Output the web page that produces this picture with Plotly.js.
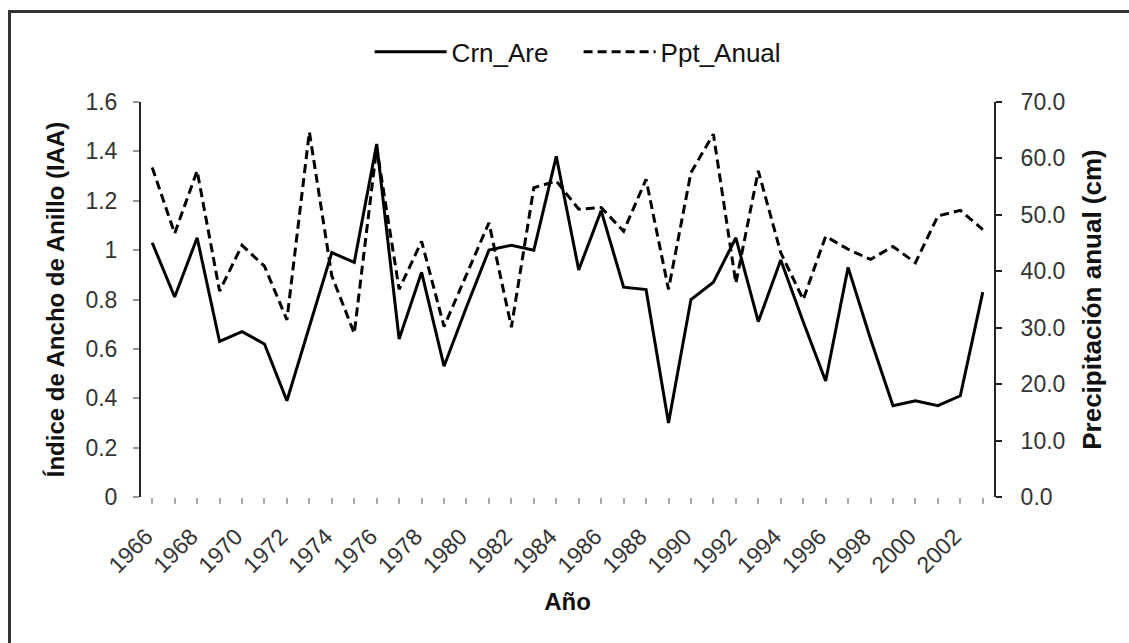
<!DOCTYPE html>
<html>
<head>
<meta charset="utf-8">
<script src="https://cdn.plot.ly/plotly-3.0.1.min.js"></script>
<style>
html,body{margin:0;padding:0;background:#fff;overflow:hidden;}
#frame{position:absolute;left:8px;top:10px;width:1140px;height:660px;border:3px solid #333;box-sizing:border-box;}
#chart{position:absolute;left:0;top:0;width:1129px;height:643px;}
</style>
</head>
<body>
<div id="frame"></div>
<div id="chart"></div>
<script>
const years = [1966,1967,1968,1969,1970,1971,1972,1973,1974,1975,1976,1977,1978,1979,1980,1981,1982,1983,1984,
  1985,1986,1987,1988,1989,1990,1991,1992,1993,1994,1995,1996,1997,1998,1999,2000,2001,2002,2003];
const crnAre = [1.03,0.81,1.05,0.63,0.67,0.62,0.39,0.69,0.99,0.95,1.43,0.64,0.91,0.53,0.77,1.00,1.02,1.00,1.38,
  0.92,1.16,0.85,0.84,0.30,0.80,0.87,1.05,0.71,0.96,0.71,0.47,0.93,0.64,0.37,0.39,0.37,0.41,0.83];
const pptAnual = [58.4,46.7,57.8,36.5,44.6,40.9,31.4,64.7,39.2,29.0,61.9,36.8,45.3,30.2,39.4,48.6,30.1,54.8,56.0,
  51.0,51.3,47.1,56.3,36.8,57.5,64.3,37.9,57.8,43.3,35.0,46.2,43.9,42.1,44.4,41.5,49.8,50.8,47.4];
const tickYears = years;
const tickLabels = years.map(y => (y % 2 === 0 ? String(y) : ''));

const FONT = 'Arial, "Liberation Sans", sans-serif';
const tickFont = {family: FONT, size: 23, color: '#333'};

const data = [
  {x: years, y: crnAre, name: 'Crn_Are', type: 'scatter', mode: 'lines',
   line: {color: '#000', width: 3}, yaxis: 'y'},
  {x: years, y: pptAnual, name: 'Ppt_Anual', type: 'scatter', mode: 'lines',
   line: {color: '#000', width: 3, dash: '9px,5px'}, yaxis: 'y2'}
];

const layout = {
  width: 1129, height: 643,
  paper_bgcolor: 'rgba(0,0,0,0)', plot_bgcolor: 'rgba(0,0,0,0)',
  margin: {l: 141, r: 135, t: 102, b: 146},
  showlegend: true,
  legend: {orientation: 'h', x: 0.268, xanchor: 'left', y: 1.127, yanchor: 'middle',
    font: {family: FONT, size: 26, color: '#111'},
    itemwidth: 72, entrywidth: 122, bgcolor: 'rgba(0,0,0,0)'},
  xaxis: {
    range: [1965.5, 2003.5], tickmode: 'array', tickvals: tickYears, ticktext: tickLabels,
    tickangle: -45, tickfont: tickFont, ticks: 'outside', ticklen: 6, tickcolor: '#aaa', tickwidth: 2,
    ticklabelstandoff: 10, ticklabelshift: -6,
    showline: false, showgrid: false, zeroline: false,
    title: {text: 'Año', font: {family: FONT, size: 24, color: '#111', weight: 'bold'}, standoff: 16}
  },
  yaxis: {
    range: [0, 1.6], dtick: 0.2, tick0: 0, tickfont: tickFont,
    ticks: 'outside', ticklen: 6, tickcolor: '#999', tickwidth: 2, ticklabelstandoff: 11,
    showline: true, linecolor: '#222', linewidth: 2, showgrid: false, zeroline: false,
    title: {text: 'Índice de Ancho de Anillo (IAA)', font: {family: FONT, size: 24, color: '#111', weight: 'bold'}, standoff: 14}
  },
  yaxis2: {
    range: [0, 70], dtick: 10, tick0: 0, tickformat: '.1f', overlaying: 'y', side: 'right',
    tickfont: tickFont, ticks: 'outside', ticklen: 6, tickcolor: '#222', tickwidth: 2, ticklabelstandoff: 14,
    showline: true, linecolor: '#222', linewidth: 2, showgrid: false, zeroline: false,
    title: {text: 'Precipitación anual (cm)', font: {family: FONT, size: 26, color: '#111', weight: 'bold'}, standoff: 18}
  }
};

Plotly.newPlot('chart', data, layout, {displayModeBar: false, staticPlot: true});
</script>
</body>
</html>
